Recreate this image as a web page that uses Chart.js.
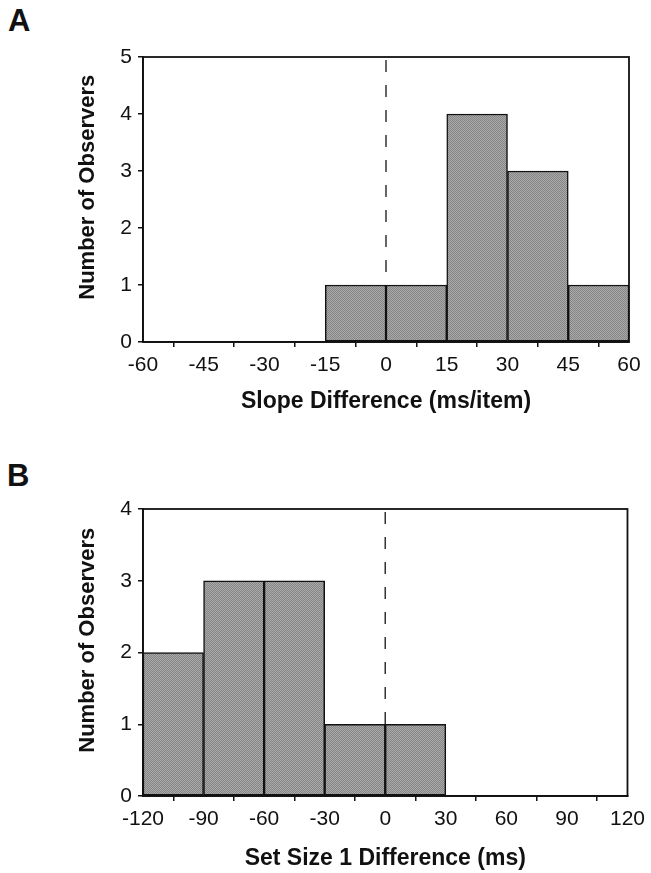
<!DOCTYPE html>
<html>
<head>
<meta charset="utf-8">
<script src="https://cdn.jsdelivr.net/npm/chart.js@4.4.1/dist/chart.umd.min.js"></script>
<style>
  body { margin: 0; background: #fff; width: 651px; height: 873px; position: relative; overflow: hidden; }
  .panel { position: absolute; left: 0; }
  .letter { position: absolute; font: bold 31px "Liberation Sans", Arial, sans-serif; line-height: 30px; color: #111; }
</style>
</head>
<body>
<div class="letter" style="left:8px;top:6px">A</div>
<canvas id="chartA" class="panel" style="top:0" width="651" height="437"></canvas>
<div class="letter" style="left:7px;top:461px">B</div>
<canvas id="chartB" class="panel" style="top:437px" width="651" height="436"></canvas>
<script>
// panel A: slope difference histogram (bins of 15 ms/item)
const slopeBinStarts = [-60, -45, -30, -15, 0, 15, 30, 45];
const slopeCounts = [0, 0, 0, 1, 1, 4, 3, 1];
const slopeBinWidth = 15;

// panel B: set size 1 difference histogram (bins of 30 ms)
const setSizeBinStarts = [-120, -90, -60, -30, 0, 30, 60, 90];
const setSizeCounts = [2, 3, 3, 1, 1, 0, 0, 0];
const setSizeBinWidth = 30;

// leading spaces nudge the rotated label a little above the axis centre
const yLabel = "    Number of Observers";
const ink = "#111";
const tickFont = { family: "'Liberation Sans', Arial, sans-serif", size: 21 };
const xTitleFont = { family: "'Liberation Sans', Arial, sans-serif", size: 23, weight: "bold" };
const yTitleFont = { family: "'Liberation Sans', Arial, sans-serif", size: 22, weight: "bold" };

// stippled grey like a halftone fill
function stipple() {
  const c = document.createElement("canvas");
  c.width = 2; c.height = 2;
  const g = c.getContext("2d");
  g.fillStyle = "#aaa"; g.fillRect(0, 0, 2, 2);
  g.fillStyle = "#858585"; g.fillRect(0, 0, 1, 1); g.fillRect(1, 1, 1, 1);
  return g.createPattern(c, "repeat");
}

// dashed reference line at x = 0, behind the bars
const zeroLine = {
  id: "zeroLine",
  beforeDatasetsDraw(chart) {
    const { ctx, chartArea: { top, bottom }, scales: { x } } = chart;
    const x0 = x.getPixelForValue(0);
    ctx.save();
    ctx.strokeStyle = "#333";
    ctx.lineWidth = 1.5;
    ctx.setLineDash([12, 13]);
    ctx.beginPath();
    ctx.moveTo(x0, top + 3);
    ctx.lineTo(x0, bottom);
    ctx.stroke();
    ctx.restore();
  },
};

// closed box around the plot area
const frame = {
  id: "frame",
  afterDatasetsDraw(chart) {
    const { ctx, chartArea: { left, right, top, bottom } } = chart;
    ctx.save();
    ctx.strokeStyle = ink;
    ctx.lineWidth = 1.8;
    ctx.strokeRect(left, top, right - left, bottom - top);
    ctx.restore();
  },
};

function axisGrid() {
  return { display: true, drawOnChartArea: false, drawTicks: true, tickLength: 5, tickColor: ink, lineWidth: 1.5 };
}

function histogram(id, binStarts, counts, binWidth, opts) {
  const data = binStarts.map((s, i) => ({ x: s + binWidth / 2, y: counts[i] || null }));
  return new Chart(document.getElementById(id), {
    type: "bar",
    data: {
      datasets: [{
        data,
        backgroundColor: stipple(),
        borderColor: ink,
        borderWidth: 1.5,
        borderSkipped: false,
        barPercentage: 1,
        categoryPercentage: 1,
      }],
    },
    options: {
      responsive: false,
      animation: false,
      layout: { padding: { top: opts.top, right: opts.right, bottom: 0, left: 0 } },
      plugins: { legend: { display: false }, tooltip: { enabled: false } },
      scales: {
        x: {
          type: "linear",
          offset: false,
          min: opts.xMin,
          max: opts.xMax,
          ticks: { stepSize: binWidth, font: tickFont, color: ink, padding: 6, maxRotation: 0, autoSkip: false },
          grid: axisGrid(),
          border: { display: true, color: ink, width: 1.8 },
          title: { display: true, text: opts.xTitle, font: xTitleFont, color: ink, padding: { top: 0, bottom: opts.xTitlePad } },
          afterFit: (s) => { s.height = opts.xAxisHeight; },
        },
        y: {
          min: 0,
          max: opts.yMax,
          ticks: { stepSize: 1, font: tickFont, color: ink, padding: 6 },
          grid: axisGrid(),
          border: { display: true, color: ink, width: 1.8 },
          title: { display: true, text: yLabel, font: yTitleFont, color: ink, padding: { top: 75, bottom: 0 } },
          afterFit: (s) => { s.width = 143; },
        },
      },
    },
    plugins: [zeroLine, frame],
  });
}

histogram("chartA", slopeBinStarts, slopeCounts, slopeBinWidth, {
  top: 57, right: 22, xMin: -60, xMax: 60, yMax: 5,
  xTitle: "Slope Difference (ms/item)", xTitlePad: 22, xAxisHeight: 95,
});

histogram("chartB", setSizeBinStarts, setSizeCounts, setSizeBinWidth, {
  top: 72, right: 21, xMin: -120, xMax: 120, yMax: 4,
  xTitle: "Set Size 1 Difference (ms)", xTitlePad: 1, xAxisHeight: 77,
});
</script>
</body>
</html>
